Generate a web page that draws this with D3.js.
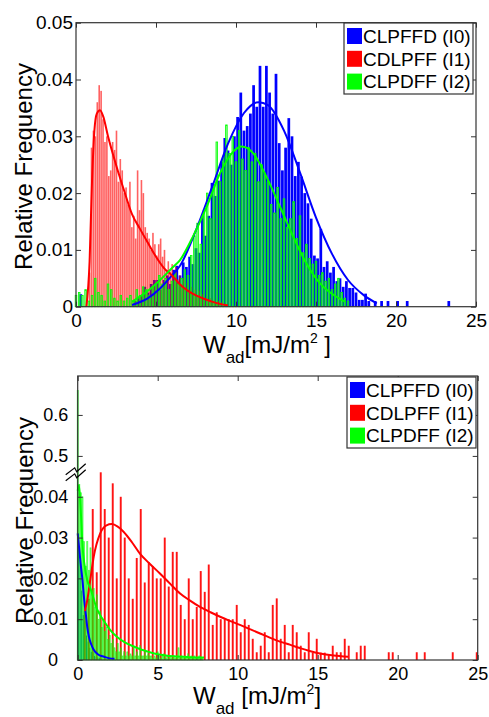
<!DOCTYPE html>
<html>
<head>
<meta charset="utf-8">
<script src="https://cdnjs.cloudflare.com/ajax/libs/d3/7.8.5/d3.min.js"></script>
<style>
body { margin: 0; background: #fff; }
svg { display: block; }
</style>
</head>
<body>
<script>
// ---- data ----
var seriesNames = ["CLPFFD (I0)", "CDLPFF (I1)", "CLPDFF (I2)"];
var xTicks = [0, 5, 10, 15, 20, 25];
var topYTicks = [0, 0.01, 0.02, 0.03, 0.04, 0.05];
var botYTicks = [0, 0.01, 0.02, 0.03, 0.04, 0.5, 0.6];

// top panel histograms (bin start, bin step, relative frequency)
var topI0Start = 0.3, topI0Step = 0.2;
var topI0 = [0.0022, 0,0,0,0,0,0,0,0,0,0,0,0,0,0,0,0,
  0.001, 0.0015, 0.002, 0.0035, 0.0025, 0.004, 0.0047, 0.0047, 0.003, 0.0047,
  0.0055, 0.004, 0.0065, 0.0072, 0.0055, 0.0078, 0.007, 0.0088, 0.0075, 0.0103,
  0.0095, 0.016, 0.0125, 0.016, 0.0218, 0.0195, 0.0222, 0.0255, 0.0297, 0.0275,
  0.025, 0.03, 0.0334, 0.0377, 0.031, 0.0318, 0.034, 0.039, 0.0352, 0.0424,
  0.0352, 0.0424, 0.0377, 0.034, 0.041, 0.0288, 0.024, 0.028, 0.0332, 0.03,
  0.023, 0.0255, 0.0229, 0.02, 0.0182, 0.0155, 0.009, 0.0085, 0.0137, 0.007,
  0.008, 0.006, 0.007, 0.0045, 0.005, 0.0035, 0.0045, 0.0033, 0.0033, 0.0025,
  0.0012, 0.0012, 0.0023, 0.001, 0, 0.001, 0, 0.001, 0, 0.001,
  0, 0, 0.001, 0, 0, 0.001,
  0,0,0,0,0,0,0,0,0,0,0,0,
  0.001];

var topI1Start = 0.85, topI1Step = 0.12;
var topI1 = [0.006, 0.028, 0.031, 0.030, 0.036, 0.039, 0.038, 0.033, 0.029, 0.030,
  0.023, 0.024, 0.029, 0.0276, 0.031, 0.022, 0.026, 0.024, 0.020, 0.021,
  0.018, 0.022, 0.014, 0.016, 0.012, 0.024, 0.017, 0.0223, 0.020, 0.014,
  0.013, 0.012, 0.010, 0.013, 0.011, 0.009, 0.011, 0.012, 0.0088, 0.010,
  0.0065, 0.008, 0.0062, 0.0075, 0.006, 0.007, 0.0048, 0.0055, 0.004, 0.005,
  0.0035, 0.0042, 0.003, 0.0035, 0.0025, 0.003, 0.002, 0.0028, 0.0015, 0.0022,
  0.0012, 0.0018, 0.001, 0.0015, 0.0008, 0.0012, 0.0007, 0.001, 0.0005, 0.0008,
  0.0004, 0.0005];

var topI2Start = 0, topI2Step = 0.2;
var topI2 = [0.002, 0.0025, 0.002, 0.003, 0.001, 0.002, 0.005, 0.0025, 0.002, 0.001,
  0.004, 0.003, 0.0015, 0.001, 0.002, 0.001, 0.0015, 0.002, 0.001, 0.003,
  0.002, 0.0035, 0.003, 0.002, 0.0035, 0.004, 0.0055, 0.004, 0.005, 0.003,
  0.0045, 0.006, 0.004, 0.005, 0.0065, 0.0055, 0.009, 0.0125, 0.0147, 0.011,
  0.017, 0.02, 0.0155, 0.0215, 0.029, 0.022, 0.0265, 0.032, 0.027, 0.03,
  0.0255, 0.031, 0.026, 0.024, 0.028, 0.0255, 0.027, 0.022, 0.025, 0.0235,
  0.022, 0.018, 0.0165, 0.021, 0.0155, 0.019, 0.014, 0.0155, 0.0185, 0.012,
  0.016, 0.0095, 0.011, 0.0085, 0.0075, 0.008, 0.0055, 0.006, 0.0045, 0.005,
  0.003, 0.004, 0.005, 0.0025, 0.0015, 0.001];

// top panel fitted curves
var topI0FitX = [3.5, 4.5, 5.25, 6, 6.5, 7.5, 8.5, 9.5, 10.5, 11.4, 12, 13, 14, 15, 16, 17, 18, 18.8];
var topI0FitY = [0.0003, 0.0015, 0.0032, 0.0055, 0.0072, 0.0135, 0.021, 0.0287, 0.0341, 0.036, 0.0355, 0.031, 0.0236, 0.0157, 0.0093, 0.0047, 0.002, 0.0006];
var topI1FitX = [0.65, 0.85, 1.0, 1.15, 1.3, 1.5, 1.7, 2.0, 2.5, 3.0, 3.5, 4.0, 4.5, 5.0, 5.5, 6.0, 6.5, 7.0, 7.5, 8.0, 8.5, 9.0, 9.5];
var topI1FitY = [0, 0.008, 0.022, 0.031, 0.034, 0.0346, 0.0335, 0.030, 0.025, 0.0205, 0.0163, 0.0137, 0.0112, 0.0088, 0.0068, 0.0055, 0.0039, 0.0028, 0.002, 0.0014, 0.0009, 0.0005, 0.0002];
var topI2FitX = [3.5, 4.5, 5.25, 6.0, 6.5, 7.3, 8.17, 9.0, 9.83, 10.35, 11.08, 11.9, 12.75, 13.58, 14.4, 15.25, 16.08, 16.8];
var topI2FitY = [0.0009, 0.0028, 0.0047, 0.0068, 0.0082, 0.0123, 0.0176, 0.0235, 0.0273, 0.0282, 0.027, 0.0229, 0.0176, 0.0123, 0.0076, 0.0041, 0.0021, 0.0009];

// bottom panel histograms
var botI0Start = 0.05, botI0Step = 0.1;
var botI0 = [0.031, 0.0245, 0.017, 0.011, 0.0095, 0.006, 0.0045, 0.003, 0.002, 0.0018, 0.001, 0.0008, 0.0006, 0.0005, 0.0003];

var botI1Start = 0.44, botI1Step = 0.25;
var botI1 = [0.012, 0.015, 0.037, 0.0215, 0.0465, 0.037, 0.030, 0.0433, 0.020, 0.040,
  0.030, 0.020, 0.015, 0.025, 0.037, 0.019, 0.024, 0.023, 0.020, 0.020,
  0.030, 0.018, 0.0265, 0.0265, 0.0135, 0.010, 0.020, 0.010, 0.013, 0.0218,
  0.0167, 0.0234, 0.0086, 0.0117, 0.010, 0.010, 0.010, 0.010, 0.0135, 0.0068,
  0.010, 0.0086, 0.0052, 0.0019, 0.0035, 0.0068, 0.0019, 0.0135, 0.0151, 0.0052,
  0.0086, 0.0019, 0.0086, 0.0068, 0.0035, 0.0019, 0.0068, 0.0018, 0.0052, 0.0018,
  0.0018, 0.0012, 0.0035, 0.0019, 0.0019, 0.0052, 0.0035, 0, 0.0019, 0.0035,
  0.0035, 0, 0, 0, 0, 0, 0.0019, 0.0019, 0, 0,
  0, 0, 0, 0.0019, 0, 0.0019, 0, 0, 0, 0,
  0, 0, 0.0019, 0, 0, 0, 0, 0, 0.0019];

var botI2Start = 0, botI2Step = 0.1;
var botI2 = [0.66, 0.043, 0.041, 0.040, 0.029, 0.023, 0.029, 0.022, 0.0275, 0.017,
  0.0175, 0.013, 0.016, 0.010, 0.012, 0.008, 0.010, 0.007, 0.008, 0.005,
  0.006, 0.004, 0.005, 0.003, 0.002, 0.004, 0.002, 0.003, 0.001, 0.002,
  0.001, 0.002, 0.001, 0.0015, 0.001, 0.003, 0.001, 0.002, 0.001, 0.0035,
  0.001, 0.001, 0.002, 0.001, 0.0015, 0.001, 0.001, 0.0005, 0.001, 0.0005,
  0.002, 0.001, 0.0005, 0.001, 0.0015, 0.0005, 0.001, 0.0005, 0.001, 0.0005,
  0.001, 0.0005, 0.001, 0.003, 0.0005, 0.001, 0.0005, 0.001, 0.0005, 0.0015,
  0.0005, 0.001, 0.0005, 0.001, 0.0005, 0.0005, 0.001, 0.0005, 0.0005];

// bottom panel fitted curves
var botI0FitX = [0, 0.1, 0.2, 0.3, 0.4, 0.5, 0.6, 0.7, 0.85, 1.0, 1.3, 1.65, 2.0, 2.3];
var botI0FitY = [0.031, 0.027, 0.023, 0.0195, 0.015, 0.0115, 0.008, 0.0057, 0.0038, 0.0025, 0.0013, 0.0008, 0.0004, 0.0003];
var botI1FitX = [0.45, 0.6, 0.8, 1.0, 1.4, 1.8, 2.12, 2.5, 2.85, 3.4, 3.9, 4.5, 5.14, 5.8, 6.4, 7.0, 7.64, 8.3, 8.9, 9.5, 10.14, 10.8, 11.4, 12.0, 12.64, 13.3, 13.9, 14.5, 15.14, 16.0, 16.9];
var botI1FitY = [0.012, 0.0147, 0.020, 0.0253, 0.031, 0.033, 0.0333, 0.0327, 0.0315, 0.0288, 0.026, 0.0236, 0.0212, 0.0186, 0.0163, 0.0146, 0.013, 0.0117, 0.0106, 0.0096, 0.0086, 0.0075, 0.0065, 0.0055, 0.0045, 0.0037, 0.0029, 0.0022, 0.0016, 0.0011, 0.0008];
var botI2FitX = [0, 0.08, 0.2, 0.3, 0.4, 0.6, 0.8, 1.2, 1.6, 2.0, 2.5, 3.0, 3.5, 4.0, 4.5, 5.0, 5.5, 6.0, 7.0, 7.9];
var botI2FitY = [0.0415, 0.0428, 0.036, 0.028, 0.024, 0.0195, 0.0175, 0.0125, 0.0098, 0.0075, 0.0055, 0.0042, 0.0033, 0.0025, 0.0019, 0.0014, 0.0011, 0.0009, 0.0007, 0.0006];

// ---- drawing ----
var FONT = "'Liberation Sans', Arial, Helvetica, sans-serif";
var colors = ["#0000ff", "#ff0000", "#00ff00"];
var axisColor = "#333";

var svg = d3.select("body").append("svg")
    .attr("width", 489)
    .attr("height", 717)
    .style("font-family", FONT);

function bins(start, step, values) {
    return values.map(function (v, i) { return {x: start + i * step, v: v}; })
        .filter(function (d) { return d.v > 0; });
}
function pairs(xs, ys) {
    return xs.map(function (x, i) { return [x, ys[i]]; });
}

function drawPanel(o) {
    var g = svg.append("g");
    var x = o.x, y = o.y;
    var y0 = y(0), yTop = y.range()[y.range().length - 1];

    // bars
    o.bars.forEach(function (b) {
        g.append("g").selectAll("rect")
            .data(bins(b.start, b.step, b.values))
            .enter()
            .append("rect")
            .attr("x", function (d) { return x(d.x - b.width / 2); })
            .attr("width", function (d) { return x(d.x + b.width / 2) - x(d.x - b.width / 2); })
            .attr("y", function (d) { return y(d.v); })
            .attr("height", function (d) { return y0 - y(d.v); })
            .attr("fill", b.color)
            .attr("fill-opacity", b.opacity)
            .attr("stroke", b.stroke ? b.color : "none")
            .attr("stroke-width", b.stroke || 0)
            .attr("stroke-opacity", b.strokeOpacity || 1);
    });

    // fitted curves
    var line = d3.line()
        .x(function (d) { return x(d[0]); })
        .y(function (d) { return y(d[1]); })
        .curve(d3.curveMonotoneX);
    o.fits.forEach(function (f) {
        g.append("path")
            .datum(f.pts)
            .attr("d", line)
            .attr("fill", "none")
            .attr("stroke", f.color)
            .attr("stroke-width", 2);
    });

    // axes, MATLAB style box with inward ticks
    var fs = o.fontSize;
    function style(a) {
        a.select(".domain").remove();
        a.selectAll(".tick line").attr("stroke", axisColor);
        a.selectAll("text").attr("fill", "#000");
        a.attr("font-family", FONT).attr("font-size", fs);
    }
    g.append("g").attr("transform", "translate(0," + y0 + ")")
        .call(d3.axisBottom(x).tickValues(xTicks).tickSize(-5).tickSizeOuter(0).tickPadding(7).tickFormat(d3.format("d")))
        .call(style);
    g.append("g").attr("transform", "translate(0," + yTop + ")")
        .call(d3.axisTop(x).tickValues(xTicks).tickSize(-5).tickSizeOuter(0).tickFormat(""))
        .call(style);
    var left = g.append("g").attr("transform", "translate(" + x(0) + ",0)")
        .call(d3.axisLeft(y).tickValues(o.yTicks).tickSize(-5).tickSizeOuter(0).tickPadding(o.yPad)
            .tickFormat(function (d) { return String(d); }))
        .call(style);
    if (o.zeroX) {
        left.selectAll(".tick text").filter(function (d) { return d === 0; }).attr("x", o.zeroX);
    }
    g.append("g").attr("transform", "translate(" + x(25) + ",0)")
        .call(d3.axisRight(y).tickValues(o.yTicks).tickSize(-5).tickSizeOuter(0).tickFormat(""))
        .call(style);
    g.append("rect")
        .attr("x", x(0)).attr("y", yTop)
        .attr("width", x(25) - x(0)).attr("height", y0 - yTop)
        .attr("fill", "none").attr("stroke", axisColor).attr("stroke-width", 1.2);

    // legend
    var lg = g.append("g").attr("transform", "translate(" + o.legend[0] + "," + o.legend[1] + ")");
    lg.append("rect").attr("width", 129).attr("height", 71)
        .attr("fill", "#fff").attr("stroke", axisColor).attr("stroke-width", 1.2);
    seriesNames.forEach(function (name, i) {
        var ry = 13 + i * 22.8;
        lg.append("rect").attr("x", 3).attr("y", ry - 8).attr("width", 15).attr("height", 16)
            .attr("fill", colors[i]);
        lg.append("text").attr("x", 19).attr("y", ry).attr("dy", "0.36em")
            .attr("font-size", 19).text(name);
    });

    // y title
    g.append("text")
        .attr("transform", "translate(" + o.yTitle[0] + "," + o.yTitle[1] + ") rotate(-90)")
        .attr("text-anchor", "middle")
        .attr("font-size", 24)
        .text("Relative Frequency");

    // x title with sub/superscripts
    var t = g.append("text").attr("x", o.xTitle[0]).attr("y", o.xTitle[1]).attr("font-size", 24);
    t.append("tspan").text("W");
    t.append("tspan").attr("font-size", 17).attr("dy", 10).text("ad");
    t.append("tspan").attr("dy", -10).text(o.gap ? "\u00a0[mJ/m" : "[mJ/m");
    t.append("tspan").attr("font-size", 14).attr("dy", -10).text("2");
    t.append("tspan").attr("dy", 10).text(o.gap ? "]" : "\u00a0]");
    return g;
}

var xTop = d3.scaleLinear().domain([0, 25]).range([76, 476]);
var yTopS = d3.scaleLinear().domain([0, 0.05]).range([306.7, 22.7]);

drawPanel({
    x: xTop, y: yTopS, yTicks: topYTicks, fontSize: 19, yPad: 3,
    bars: [
        {start: topI0Start, step: topI0Step, values: topI0, width: 0.17, color: colors[0], opacity: 1},
        {start: topI1Start, step: topI1Step, values: topI1, width: 0.1, color: colors[1], opacity: 0.62},
        {start: topI2Start, step: topI2Step, values: topI2, width: 0.1, color: colors[2], opacity: 0.45, stroke: 0.8}
    ],
    fits: [
        {pts: pairs(topI0FitX, topI0FitY), color: colors[0]},
        {pts: pairs(topI1FitX, topI1FitY), color: colors[1]},
        {pts: pairs(topI2FitX, topI2FitY), color: colors[2]}
    ],
    legend: [344, 23],
    yTitle: [31.5, 166.5],
    xTitle: [203, 352.5],
    gap: false
});

var xBot = d3.scaleLinear().domain([0, 25]).range([77.7, 477.7]);
// broken axis: 0..0.046 linear, then jump to 0.46..0.695
var yBotS = d3.scaleLinear().domain([0, 0.046, 0.46, 0.695]).range([660, 472.3, 472.3, 376]);

var bot = drawPanel({
    x: xBot, y: yBotS, yTicks: botYTicks, fontSize: 18, yPad: 9.4, zeroX: -19.7,
    bars: [
        {start: botI0Start, step: botI0Step, values: botI0, width: 0.06, color: colors[0], opacity: 1},
        {start: botI1Start, step: botI1Step, values: botI1, width: 0.12, color: colors[1], opacity: 0.92},
        {start: botI2Start, step: botI2Step, values: botI2, width: 0.07, color: colors[2], opacity: 0.5, stroke: 0.6, strokeOpacity: 0.7}
    ],
    fits: [
        {pts: pairs(botI0FitX, botI0FitY), color: colors[0]},
        {pts: pairs(botI1FitX, botI1FitY), color: colors[1]},
        {pts: pairs(botI2FitX, botI2FitY), color: colors[2]}
    ],
    legend: [347, 377],
    yTitle: [32.5, 520.5],
    xTitle: [193, 704],
    gap: true
});

// axis break mark
var bx = xBot(0), by = yBotS(0.046);
[-3.5, 2.5].forEach(function (off) {
    bot.append("path")
        .attr("d", "M" + (bx - 12) + "," + (by + 6 + off) + "L" + (bx - 3) + "," + (by - 1 + off) +
            "L" + (bx - 1) + "," + (by + 3 + off) + "L" + (bx + 8) + "," + (by - 5 + off))
        .attr("fill", "none")
        .attr("stroke", "#000")
        .attr("stroke-width", 1.2);
});
</script>
</body>
</html>
